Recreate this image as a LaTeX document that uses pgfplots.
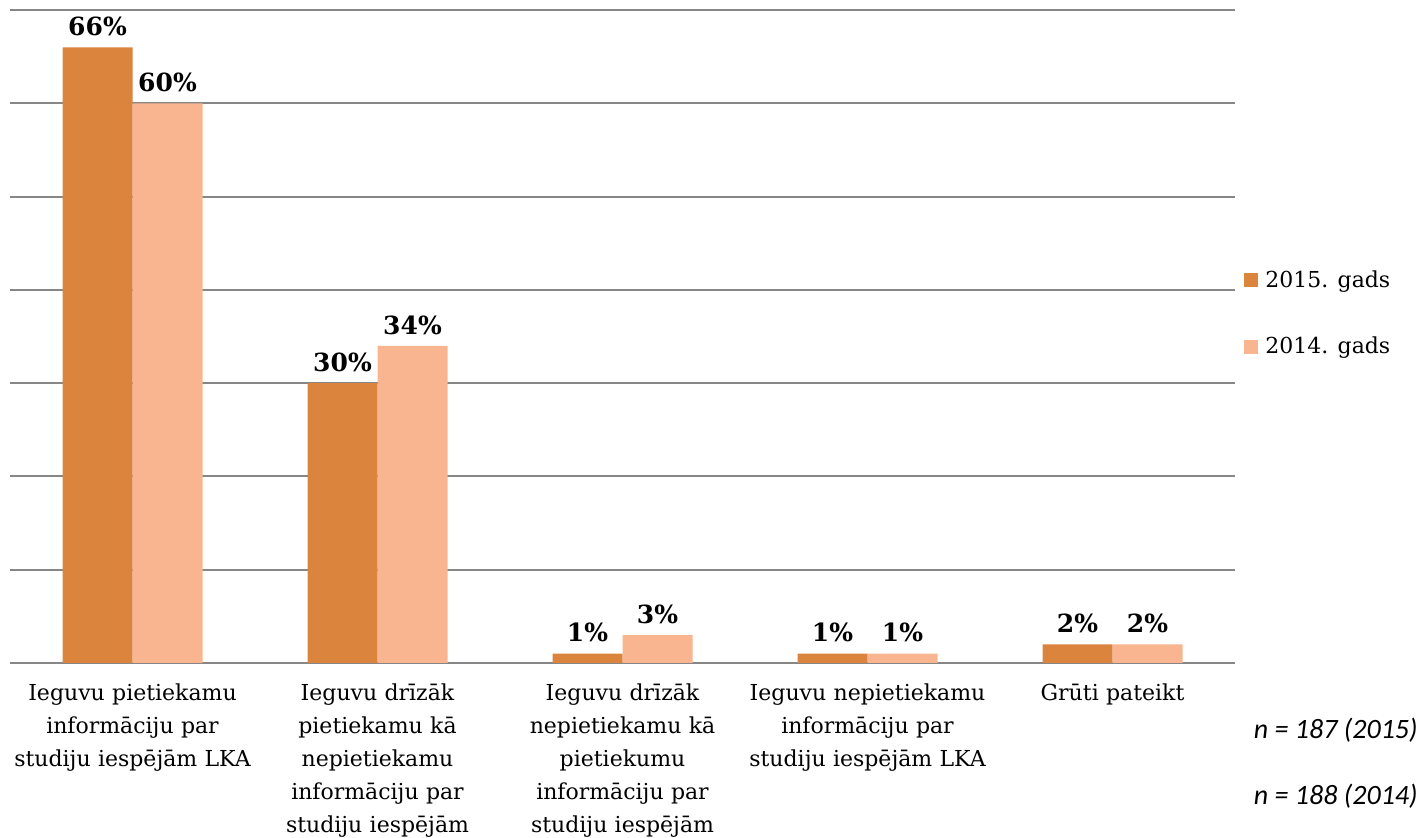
\documentclass[border=0pt]{standalone}
\usepackage{fontspec}
\setmainfont{DejaVu Serif}
\newfontfamily\calib{Carlito}
\usepackage{pgfplots}
\usepackage{pgfplotstable}
\pgfplotsset{compat=1.18}

\definecolor{c15}{HTML}{DA843E}
\definecolor{c14}{HTML}{F8B58F}
\definecolor{gridc}{HTML}{868686}

% category, 2015, 2014
\pgfplotstableread{
cat y15 y14
0 66 60
1 30 34
2 1 3
3 1 1
4 2 2
}\answers

\begin{document}
\begin{tikzpicture}
\begin{axis}[
    name=ax,
    scale only axis,
    width=612.5bp, height=326.5bp,
    ybar=0pt, bar width=35bp,
    xmin=-0.5, xmax=4.5,
    ymin=0, ymax=70,
    enlargelimits=false,
    clip=false,
    axis line style={draw=none},
    major tick length=0pt,
    ytick={0,10,...,70},
    yticklabels={},
    ymajorgrids=true,
    grid style={draw=gridc, line width=1bp},
    xtick={0,1,2,3,4},
    xticklabels={
      {Ieguvu pietiekamu\\informāciju par\\studiju iespējām LKA},
      {Ieguvu drīzāk\\pietiekamu kā\\nepietiekamu\\informāciju par\\studiju iespējām},
      {Ieguvu drīzāk\\nepietiekamu kā\\pietiekumu\\informāciju par\\studiju iespējām},
      {Ieguvu nepietiekamu\\informāciju par\\studiju iespējām LKA},
      {Grūti pateikt}},
    xticklabel style={text width=125bp, align=center, anchor=north,
      inner sep=0pt, yshift=-10bp,
      font=\fontsize{11bp}{16.5bp}\selectfont},
    nodes near coords={\pgfmathprintnumber[assume math mode=true]{\pgfplotspointmeta}\%},
    every node near coord/.append style={anchor=south, inner sep=0pt,
      yshift=5.5bp, text=black, font=\fontsize{12.5bp}{14bp}\selectfont\bfseries},
    legend style={draw=none, fill=none, at={(1,0.535)}, anchor=west,
      xshift=4.5bp, inner sep=0pt, row sep=23.5bp, column sep=3.5bp,
      font=\fontsize{11bp}{13bp}\selectfont,
      nodes={inner sep=0pt}},
    legend cell align=left,
    legend image code/.code={\fill[#1] (0bp,-3.5bp) rectangle (7bp,3.5bp);},
]
\addplot[fill=c15, draw=none] table[x=cat, y=y15] {\answers};
\addplot[fill=c14, draw=none] table[x=cat, y=y14] {\answers};
\legend{2015. gads, 2014. gads}
\node[anchor=east, inner sep=0pt, font=\calib\itshape\fontsize{14bp}{16bp}\selectfont]
  at ([shift={(91.5bp,-33.5bp)}]rel axis cs:1,0) {n = 187 (2015)};
\node[anchor=east, inner sep=0pt, font=\calib\itshape\fontsize{14bp}{16bp}\selectfont]
  at ([shift={(91.5bp,-66.5bp)}]rel axis cs:1,0) {n = 188 (2014)};
\end{axis}
\pgfresetboundingbox
\path[use as bounding box] ([shift={(-5bp,-87.5bp)}]ax.south west)
  rectangle ([shift={(96bp,5bp)}]ax.north east);
\end{tikzpicture}
\end{document}
